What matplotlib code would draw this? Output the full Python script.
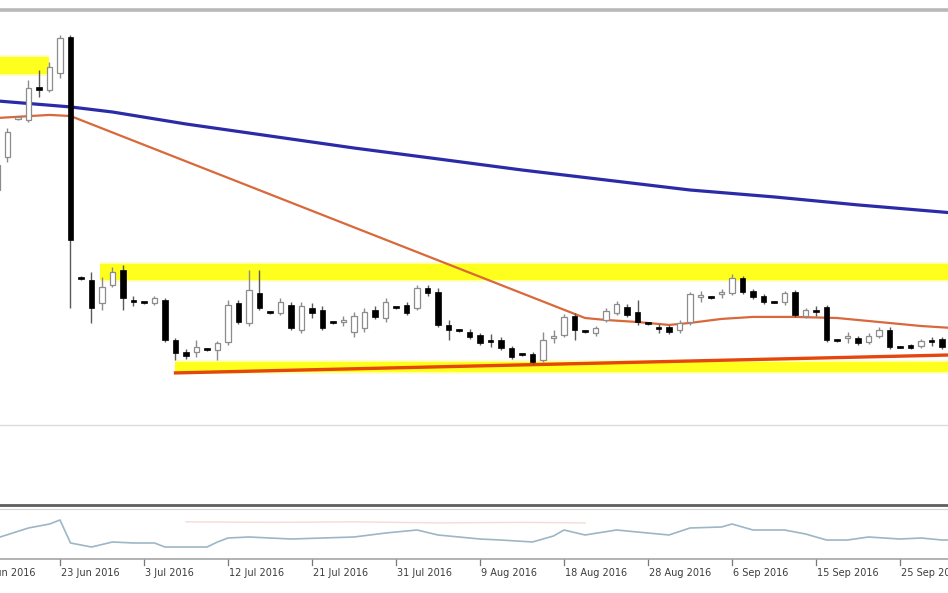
import numpy as np
import matplotlib
matplotlib.use("Agg")
import matplotlib.pyplot as plt
from matplotlib.lines import Line2D
from matplotlib.transforms import blended_transform_factory

# daily bars, 16 Jun 2016 .. 29 Sep 2016 (Sun-Fri sessions)
dates = ['16 Jun', '17 Jun', '19 Jun', '20 Jun', '21 Jun', '22 Jun', '23 Jun', '24 Jun',
         '26 Jun', '27 Jun', '28 Jun', '29 Jun', '30 Jun', '1 Jul', '3 Jul', '4 Jul',
         '5 Jul', '6 Jul', '7 Jul', '8 Jul', '10 Jul', '11 Jul', '12 Jul', '13 Jul',
         '14 Jul', '15 Jul', '17 Jul', '18 Jul', '19 Jul', '20 Jul', '21 Jul', '22 Jul',
         '24 Jul', '25 Jul', '26 Jul', '27 Jul', '28 Jul', '29 Jul', '31 Jul', '1 Aug',
         '2 Aug', '3 Aug', '4 Aug', '5 Aug', '7 Aug', '8 Aug', '9 Aug', '10 Aug',
         '11 Aug', '12 Aug', '14 Aug', '15 Aug', '16 Aug', '17 Aug', '18 Aug', '19 Aug',
         '21 Aug', '22 Aug', '23 Aug', '24 Aug', '25 Aug', '26 Aug', '28 Aug', '29 Aug',
         '30 Aug', '31 Aug', '1 Sep', '2 Sep', '4 Sep', '5 Sep', '6 Sep', '7 Sep',
         '8 Sep', '9 Sep', '11 Sep', '12 Sep', '13 Sep', '14 Sep', '15 Sep', '16 Sep',
         '18 Sep', '19 Sep', '20 Sep', '21 Sep', '22 Sep', '23 Sep', '25 Sep', '26 Sep',
         '27 Sep', '28 Sep', '29 Sep']

opens = [1.4015, 1.4230, 1.4477, 1.4470, 1.4685, 1.4665, 1.4776, 1.5010,
         1.3450, 1.3430, 1.3281, 1.3398, 1.3495, 1.3300, 1.3287, 1.3281,
         1.3300, 1.3040, 1.2962, 1.2962, 1.2982, 1.2975, 1.3027, 1.3281,
         1.3151, 1.3346, 1.3222, 1.3216, 1.3268, 1.3105, 1.3248, 1.3235,
         1.3157, 1.3157, 1.3092, 1.3118, 1.3235, 1.3183, 1.3255, 1.3268,
         1.3248, 1.3378, 1.3352, 1.3138, 1.3105, 1.3092, 1.3073, 1.3034,
         1.3040, 1.2988, 1.2949, 1.2949, 1.2910, 1.3053, 1.3073, 1.3196,
         1.3099, 1.3086, 1.3170, 1.3216, 1.3255, 1.3222, 1.3151, 1.3118,
         1.3125, 1.3105, 1.3157, 1.3320, 1.3320, 1.3339, 1.3346, 1.3443,
         1.3359, 1.3326, 1.3287, 1.3287, 1.3352, 1.3196, 1.3229, 1.3255,
         1.3040, 1.3053, 1.3053, 1.3027, 1.3066, 1.3105, 1.2995, 1.3008,
         1.3001, 1.3034, 1.3047]
highs = [1.4210, 1.4418, 1.4490, 1.4730, 1.4795, 1.4847, 1.5023, 1.5023,
         1.3456, 1.3482, 1.3450, 1.3515, 1.3528, 1.3326, 1.3290, 1.3326,
         1.3313, 1.3053, 1.2982, 1.3040, 1.2988, 1.3034, 1.3300, 1.3300,
         1.3495, 1.3495, 1.3229, 1.3313, 1.3287, 1.3287, 1.3281, 1.3261,
         1.3164, 1.3196, 1.3222, 1.3248, 1.3261, 1.3313, 1.3261, 1.3287,
         1.3398, 1.3398, 1.3378, 1.3170, 1.3112, 1.3112, 1.3086, 1.3079,
         1.3060, 1.3001, 1.2956, 1.2962, 1.3092, 1.3105, 1.3209, 1.3216,
         1.3105, 1.3131, 1.3248, 1.3294, 1.3274, 1.3300, 1.3157, 1.3144,
         1.3138, 1.3170, 1.3352, 1.3359, 1.3326, 1.3372, 1.3469, 1.3456,
         1.3372, 1.3339, 1.3294, 1.3359, 1.3365, 1.3248, 1.3261, 1.3268,
         1.3047, 1.3092, 1.3066, 1.3086, 1.3125, 1.3125, 1.3001, 1.3014,
         1.3047, 1.3060, 1.3060]
lows = [1.3983, 1.4197, 1.4470, 1.4457, 1.4620, 1.4652, 1.4743, 1.3248,
        1.3430, 1.3151, 1.3235, 1.3385, 1.3235, 1.3261, 1.3274, 1.3268,
        1.3027, 1.2910, 1.2917, 1.2930, 1.2969, 1.2910, 1.3008, 1.3144,
        1.3131, 1.3235, 1.3209, 1.3203, 1.3105, 1.3086, 1.3183, 1.3105,
        1.3144, 1.3131, 1.3060, 1.3092, 1.3177, 1.3157, 1.3242, 1.3203,
        1.3235, 1.3326, 1.3125, 1.3040, 1.3092, 1.3047, 1.3008, 1.2995,
        1.2975, 1.2917, 1.2936, 1.2884, 1.2897, 1.3021, 1.3060, 1.3040,
        1.3086, 1.3066, 1.3157, 1.3203, 1.3190, 1.3138, 1.3138, 1.3086,
        1.3079, 1.3086, 1.3138, 1.3287, 1.3307, 1.3313, 1.3333, 1.3339,
        1.3307, 1.3274, 1.3278, 1.3268, 1.3190, 1.3183, 1.3196, 1.3027,
        1.3030, 1.3021, 1.3008, 1.3014, 1.3053, 1.2982, 1.2988, 1.2982,
        1.2988, 1.3001, 1.2982]
closes = [1.4178, 1.4392, 1.4483, 1.4678, 1.4665, 1.4815, 1.5003, 1.3690,
          1.3437, 1.3248, 1.3385, 1.3482, 1.3313, 1.3287, 1.3281, 1.3313,
          1.3040, 1.2956, 1.2936, 1.2995, 1.2975, 1.3021, 1.3268, 1.3157,
          1.3365, 1.3248, 1.3216, 1.3287, 1.3118, 1.3261, 1.3216, 1.3118,
          1.3151, 1.3164, 1.3196, 1.3222, 1.3190, 1.3287, 1.3248, 1.3216,
          1.3378, 1.3346, 1.3138, 1.3105, 1.3099, 1.3060, 1.3021, 1.3027,
          1.2988, 1.2930, 1.2943, 1.2897, 1.3040, 1.3066, 1.3190, 1.3105,
          1.3092, 1.3118, 1.3229, 1.3274, 1.3203, 1.3157, 1.3144, 1.3112,
          1.3092, 1.3151, 1.3339, 1.3326, 1.3313, 1.3346, 1.3443, 1.3352,
          1.3320, 1.3287, 1.3283, 1.3346, 1.3203, 1.3235, 1.3222, 1.3040,
          1.3036, 1.3060, 1.3021, 1.3066, 1.3105, 1.2995, 1.2991, 1.2988,
          1.3034, 1.3027, 1.2995]

# overlay lines (bar index, price)
blue_idx = [0, 7, 11, 18, 26, 34, 42, 50, 58, 66, 74, 82, 90, 91]
blue_val = [1.4594, 1.4555, 1.4522, 1.4444, 1.4366, 1.4288, 1.4217, 1.4145,
            1.4080, 1.4015, 1.3970, 1.3918, 1.3872, 1.3866]
orange_idx = [0, 5, 7, 56, 58, 61, 64, 66, 69, 72, 76, 80, 84, 88, 91]
orange_val = [1.4483, 1.4503, 1.4496, 1.3183, 1.3170, 1.3157, 1.3138, 1.3151,
              1.3177, 1.3190, 1.3190, 1.3183, 1.3157, 1.3131, 1.3118]
support_idx = [17, 91]
support_val = [1.2826, 1.2943]

# yellow zones: (start idx, end idx, low, high)
zones = [(-2, 5, 1.4769, 1.4880),
         (9.8, 93, 1.3430, 1.3534),
         (17, 93, 1.2832, 1.2897)]

# lower indicator panel
ind_idx = [0, 3, 5, 6, 7, 9, 11, 13, 15, 16, 20, 21, 22, 24, 26, 28, 31, 34, 37, 40,
           42, 44, 46, 48, 51, 53, 54, 56, 59, 62, 64, 66, 69, 70, 72, 75, 77, 79,
           81, 83, 86, 88, 90, 91]
ind_val = [41.5, 60.4, 67.9, 75.5, 32.1, 24.5, 34.0, 32.1, 32.1, 24.5, 24.5, 34.0,
           41.5, 43.4, 41.5, 39.6, 41.5, 43.4, 50.9, 56.6, 47.2, 43.4, 39.6, 37.7,
           34.0, 45.3, 56.6, 47.2, 56.6, 50.9, 47.2, 60.4, 62.3, 67.9, 56.6, 56.6,
           49.1, 37.7, 37.7, 43.4, 39.6, 41.5, 37.7, 37.7]
faint_idx = [18, 26, 34, 42, 50, 56]
faint_val = [72, 71, 72, 70, 71, 70]

tick_labels = ['14 Jun 2016', '23 Jun 2016', '3 Jul 2016', '12 Jul 2016', '21 Jul 2016',
               '31 Jul 2016', '9 Aug 2016', '18 Aug 2016', '28 Aug 2016', '6 Sep 2016',
               '15 Sep 2016', '25 Sep 2016']

W, H = 948, 593
fig = plt.figure(figsize=(W / 100, H / 100), dpi=100)
fig.patch.set_facecolor('white')

def fy(py):
    return 1 - py / H

xlim = (0.286, 90.571)

ax = fig.add_axes([0, fy(425), 1, (425 - 12) / H])
ax.set_xlim(*xlim)
ax.set_ylim(1.24875, 1.5172)
ax.axis('off')

# yellow zones: soft halo + core
for x0, x1, lo, hi in zones:
    ax.fill_between([x0, x1], lo - 0.0012, hi + 0.0012, color='#ffffb8', lw=0, zorder=1)
    ax.fill_between([x0, x1], lo, hi, color='#ffff1e', lw=0, zorder=1.1)

ax.plot(blue_idx, blue_val, color='#2b2ba8', lw=2.3, zorder=2, solid_capstyle='butt')
ax.plot(orange_idx, orange_val, color='#d9683a', lw=1.6, zorder=2)
ax.plot(support_idx, support_val, color='#e4460e', lw=2.4, zorder=2)

x = np.arange(len(opens))
o = np.array(opens)
h = np.array(highs)
l = np.array(lows)
c = np.array(closes)
up = c >= o
ax.vlines(x[up], l[up], h[up], color='#8c8c8c', lw=1.0, zorder=3)
ax.vlines(x[~up], l[~up], h[~up], color='#5a5a5a', lw=1.0, zorder=3)
body_lo = np.minimum(o, c)
body_h = np.maximum(np.abs(c - o), 0.0011)
ax.bar(x[up], body_h[up], bottom=body_lo[up], width=0.5, color='white',
       edgecolor='#8c8c8c', lw=0.9, zorder=4)
ax.bar(x[~up], body_h[~up], bottom=body_lo[~up], width=0.55, color='black',
       edgecolor='black', lw=0.5, zorder=4)

# indicator panel
ax2 = fig.add_axes([0, fy(560), 1, 53 / H])
ax2.set_xlim(*xlim)
ax2.set_ylim(0, 100)
ax2.axis('off')
ax2.plot(faint_idx, faint_val, color='#f3dcd6', lw=1.0)
ax2.plot(ind_idx, ind_val, color='#9db6c6', lw=1.2)

# frame lines
for py, col, lw in [(10, '#b8b8b8', 2.6), (425, '#dcdcdc', 1.0),
                    (505, '#5e5e5e', 2.0), (509, '#d4d4d4', 0.8),
                    (559, '#a6a6a6', 1.2)]:
    fig.add_artist(Line2D([0, 1], [fy(py), fy(py)], transform=fig.transFigure,
                          color=col, lw=lw))

# date ticks and labels
trans = blended_transform_factory(ax2.transData, fig.transFigure)
for i, lab in enumerate(tick_labels):
    tx = -2 + 8 * i
    ax2.add_line(Line2D([tx, tx], [fy(559), fy(565)], transform=trans,
                        color='#777777', lw=0.9, clip_on=False))
    ax2.text(tx + 0.12, fy(573), lab, transform=trans, ha='left', va='center',
             fontsize=7, color='#3c3c3c', family='DejaVu Sans', clip_on=False)

fig.savefig('out.png', dpi=100, facecolor='white')
